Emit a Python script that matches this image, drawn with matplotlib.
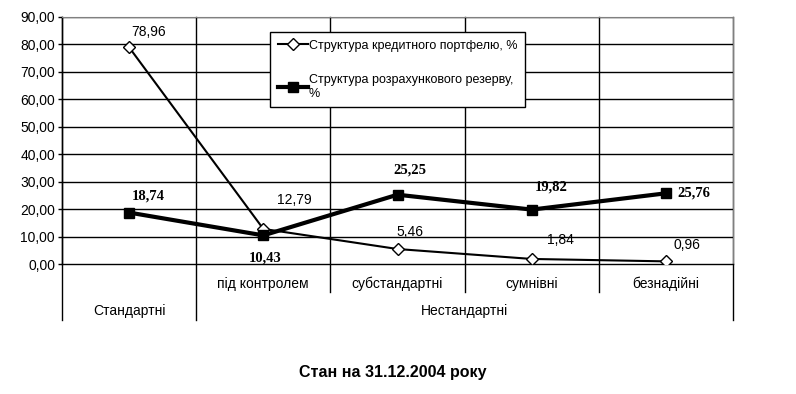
import numpy as np
import matplotlib.pyplot as plt
from matplotlib.transforms import blended_transform_factory

categories = ["Стандартні", "під контролем", "субстандартні", "сумнівні", "безнадійні"]
groups = ["Стандартні", "Нестандартні"]
portfolio = [78.96, 12.79, 5.46, 1.84, 0.96]
reserve = [18.74, 10.43, 25.25, 19.82, 25.76]
label1 = "Структура кредитного портфелю, %"
label2 = "Структура розрахункового резерву,\n%"
title = "Стан на 31.12.2004 року"

# label offsets in points (dx, dy) for each data label
off1 = [(14, 11), (22, 21), (9, 12), (21, 14), (15, 12)]
off2 = [(14, 12), (1, -16), (9, 18), (14, 16), (20, 0)]

plt.rcParams['font.family'] = ['Liberation Sans', 'DejaVu Sans']

fig = plt.figure(figsize=(7.96, 3.94), dpi=100)
ax = fig.add_axes([62 / 796, 1 - 264 / 394, 671 / 796, 247 / 394])

x = np.arange(len(categories)) + 0.5
ax.set_xlim(0, len(categories))
ax.set_ylim(0, 90)

yt = np.arange(0, 91, 10)
ax.set_yticks(yt)
ax.set_yticklabels([f"{v:.2f}".replace(".", ",") for v in yt], fontsize=10)
ax.tick_params(axis='y', length=3, width=1, pad=2)
ax.set_xticks([])
for v in yt[1:]:
    ax.axhline(v, color='black', lw=1, zorder=1)

for s in ['top', 'right']:
    ax.spines[s].set_color('#808080')
ax.spines['left'].set_linewidth(1)
ax.spines['bottom'].set_linewidth(1)

# category separators, extending below the axis
tr = blended_transform_factory(ax.transData, ax.transAxes)
row1 = -28 / 247
row2 = -56 / 247
for i in range(len(categories) + 1):
    low = row2 if i in (0, 1, len(categories)) else row1
    ax.plot([i, i], [low, 1], color='black', lw=1, transform=tr, clip_on=False, zorder=1)

for xi, c in zip(x, categories):
    if c != "Стандартні":
        ax.text(xi, -20 / 247, c, ha='center', va='center', fontsize=10, transform=tr)
ax.text(0.5, -47 / 247, groups[0], ha='center', va='center', fontsize=10, transform=tr)
ax.text(3.0, -47 / 247, groups[1], ha='center', va='center', fontsize=10, transform=tr)

ax.plot(x, portfolio, color='black', lw=1.5, marker='D', ms=6, mfc='white', mec='black',
        mew=1, label=label1, zorder=3)
ax.plot(x, reserve, color='black', lw=3, marker='s', ms=7, mfc='black', mec='black',
        label=label2, zorder=3)

for xi, v, o in zip(x, portfolio, off1):
    ax.annotate(f"{v:.2f}".replace(".", ","), (xi, v), xytext=o, textcoords='offset points',
                ha='center', va='center', fontsize=10)
for xi, v, o in zip(x, reserve, off2):
    ax.annotate(f"{v:.2f}".replace(".", ","), (xi, v), xytext=o, textcoords='offset points',
                ha='center', va='center', fontsize=10.5, fontweight='bold',
                family='Liberation Serif')

leg = ax.legend(loc='upper left', bbox_to_anchor=(270 / 796, 1 - 32 / 394),
                bbox_transform=fig.transFigure, fontsize=9, frameon=True, fancybox=False,
                edgecolor='black', framealpha=1, handlelength=2.4, handletextpad=0.1,
                labelspacing=1.8, borderpad=0.6, borderaxespad=0)
leg.get_frame().set_linewidth(1)

fig.text(393 / 796, 1 - 373 / 394, title, ha='center', va='center', fontsize=11.5,
         fontweight='bold')

fig.savefig('out.png', dpi=100)
